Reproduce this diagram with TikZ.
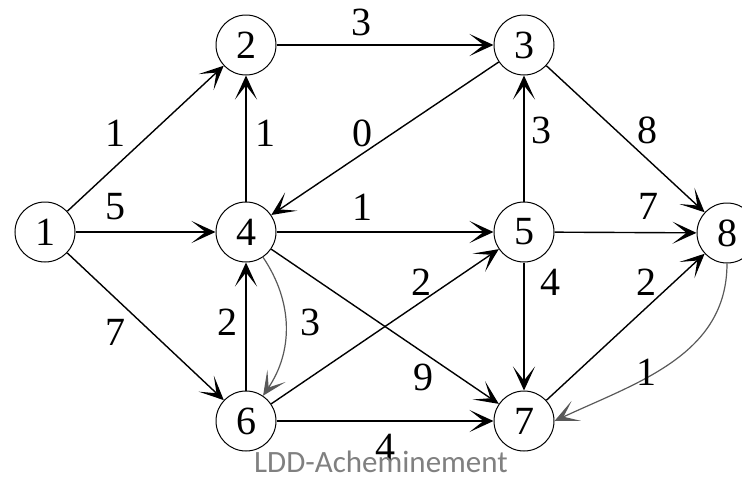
\documentclass[tikz,border=0pt]{standalone}
\usepackage{fontspec}
\setmainfont{Liberation Serif}
\newfontfamily\numfont{Liberation Serif}
\newfontfamily\capfont{Carlito}
\usetikzlibrary{arrows.meta}
\begin{document}
\begin{tikzpicture}[x=1pt,y=-1pt,
  vertex/.style={draw,circle,minimum size=60pt,inner sep=0pt,line width=1pt,font=\numfont\fontsize{40}{40}\selectfont},
  wlabel/.style={font=\numfont\fontsize{40}{40}\selectfont,inner sep=0pt},
  arr/.style={line width=1.4pt,-{Stealth[length=24pt,width=22pt,inset=14pt]}},
  carr/.style={line width=1.2pt,draw=black!65,-{Stealth[length=24pt,width=22pt,inset=14pt]}}]
\useasboundingbox (0,0) rectangle (742,477);
\node[vertex] (n1) at (45,232) {1};
\node[vertex] (n2) at (246,45) {2};
\node[vertex] (n3) at (524,45) {3};
\node[vertex] (n4) at (246,232) {4};
\node[vertex] (n5) at (524,232) {5};
\node[vertex] (n6) at (246,421) {6};
\node[vertex] (n7) at (524,421) {7};
\node[vertex] (n8) at (727,233) {8};

\draw[arr] (n1) -- (n2);
\draw[arr] (n1) -- (n4);
\draw[arr] (n1) -- (n6);
\draw[arr] (n2) -- (n3);
\draw[arr] (n4) -- (n2);
\draw[arr] (n3) -- (n4);
\draw[arr] (n4) -- (n5);
\draw[arr] (n5) -- (n3);
\draw[arr] (n3) -- (n8);
\draw[arr] (n5) -- (n8);
\draw[arr] (n6) -- (n4);
\draw[carr] (n4) to[bend left=34] (n6);
\draw[arr] (n6) -- (n5);
\draw[arr] (n4) -- (n7);
\draw[arr] (n5) -- (n7);
\draw[arr] (n6) -- (n7);
\draw[arr] (n7) -- (n8);
\draw[carr] (n8.south) to[out=-90,in=25] (n7.east);

\node[wlabel] (l12) at (115,133) {1};
\node[wlabel] (l14) at (115,207) {5};
\node[wlabel] (l16) at (115,332) {7};
\node[wlabel] (l23) at (361,22) {3};
\node[wlabel] (l42) at (265,133) {1};
\node[wlabel] (l34) at (362,133) {0};
\node[wlabel] (l45) at (362,207) {1};
\node[wlabel] (l53) at (541,130) {3};
\node[wlabel] (l38) at (647,130) {8};
\node[wlabel] (l58) at (648,206) {7};
\node[wlabel] (l64) at (227,322) {2};
\node[wlabel] (l46) at (310,322) {3};
\node[wlabel] (l65) at (421,282) {2};
\node[wlabel] (l47) at (423,377) {9};
\node[wlabel] (l57) at (550,282) {4};
\node[wlabel] (l67) at (385,447) {4};
\node[wlabel] (l78) at (646,282) {2};
\node[wlabel] (l87) at (646,372) {1};
\node[font=\capfont\fontsize{31}{31}\selectfont,text=black!50,inner sep=0pt,anchor=base] (cap) at (381,472) {LDD-Acheminement};
\end{tikzpicture}
\end{document}
